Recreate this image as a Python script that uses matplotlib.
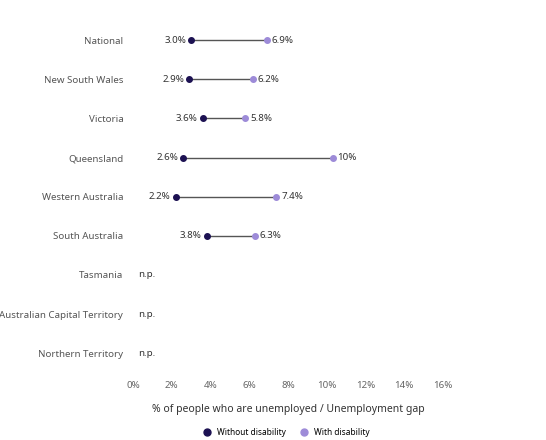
import matplotlib.pyplot as plt
from matplotlib.lines import Line2D

plt.rcParams['font.family'] = ['Noto Sans', 'DejaVu Sans']

regions = ['National', 'New South Wales', 'Victoria', 'Queensland', 'Western Australia',
           'South Australia', 'Tasmania', 'Australian Capital Territory', 'Northern Territory']
without_dis = [3.0, 2.9, 3.6, 2.6, 2.2, 3.8, None, None, None]
with_dis = [6.9, 6.2, 5.8, 10.3, 7.4, 6.3, None, None, None]
with_labels = ['6.9%', '6.2%', '5.8%', '10%', '7.4%', '6.3%']

dark = '#1c1152'
light = '#9d8bd8'

fig = plt.figure(figsize=(5.46, 4.4), dpi=100)
ax = fig.add_axes([0.2436, 0.153, 0.5678, 0.8])

for i, (a, b) in enumerate(zip(without_dis, with_dis)):
    if a is None:
        ax.text(0.25, i, 'n.p.', ha='left', va='center', fontsize=7, fontweight='bold', color='#333333')
        continue
    ax.plot([a, b], [i, i], color='#555555', lw=1, zorder=1)
    ax.scatter([a], [i], color=dark, s=16, zorder=2)
    ax.scatter([b], [i], color=light, s=16, zorder=2)
    ax.text(a - 0.25, i, f'{a:.1f}%', ha='right', va='center', fontsize=7, fontweight='bold', color='#333333')
    ax.text(b + 0.25, i, with_labels[i], ha='left', va='center', fontsize=7, fontweight='bold', color='#333333')

ax.set_xlim(0, 16)
ax.set_ylim(8.5, -0.5)
ax.set_xticks(range(0, 17, 2))
ax.set_xticklabels([f'{v}%' for v in range(0, 17, 2)], color='#666666', fontsize=7)
ax.set_yticks(range(len(regions)))
ax.set_yticklabels(regions, color='#555555', fontsize=7)
ax.tick_params(axis='y', length=0, pad=7)
ax.tick_params(axis='x', length=0, pad=6)
for s in ax.spines.values():
    s.set_visible(False)

ax.set_xlabel('% of people who are unemployed / Unemployment gap', fontsize=7.5,
              fontweight='bold', color='#333333', labelpad=10)

handles = [Line2D([], [], marker='o', ls='', color=dark, markersize=5, label='Without disability'),
           Line2D([], [], marker='o', ls='', color=light, markersize=5, label='With disability')]
fig.legend(handles=handles, loc='center', bbox_to_anchor=(0.52, 0.018), ncol=2, frameon=False,
           handletextpad=0.2, columnspacing=1.2, prop={'weight': 'bold', 'size': 6})

fig.savefig('out.png', dpi=100)
